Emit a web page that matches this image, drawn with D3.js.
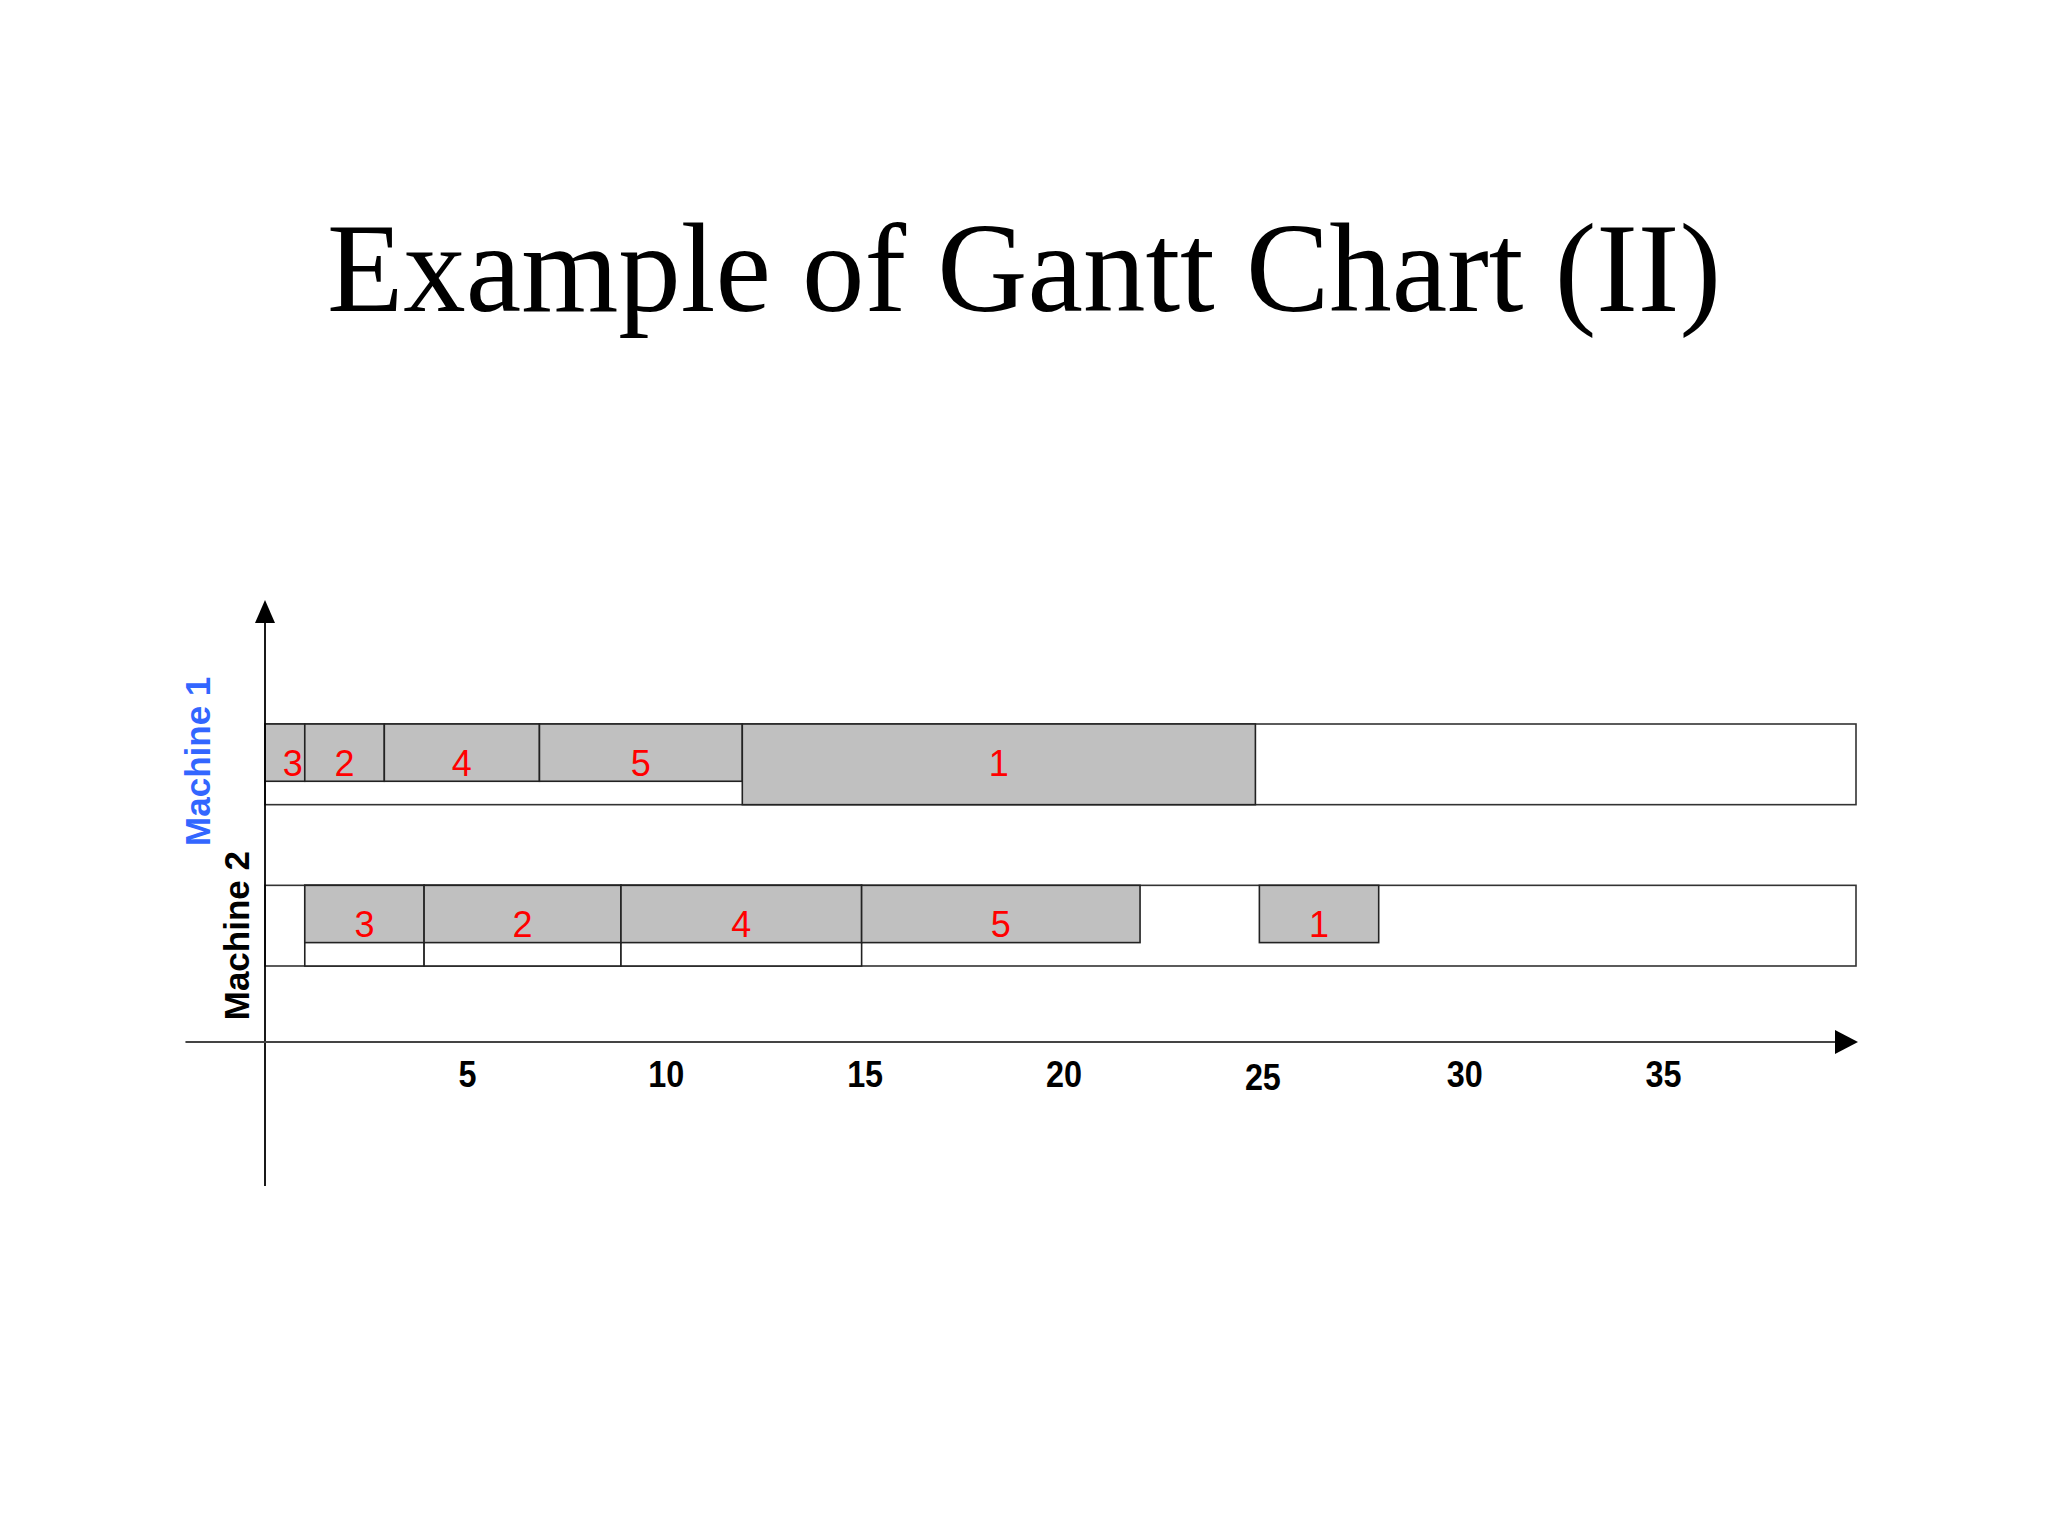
<!DOCTYPE html>
<html>
<head>
<meta charset="utf-8">
<script src="https://cdn.jsdelivr.net/npm/d3@7"></script>
<style>
  html, body { margin: 0; padding: 0; background: #fff; }
  svg { display: block; }
</style>
</head>
<body>
<div id="container"></div>
<script>
// chart data
const machines = ["Machine 1", "Machine 2"];
const jobs1 = [3, 2, 4, 5, 1];
const start1 = [0, 1, 3, 6.9, 12];
const end1 = [1, 3, 6.9, 12, 24.9];
const jobs2 = [3, 2, 4, 5, 1];
const start2 = [1, 4, 8.95, 15, 25];
const end2 = [4, 8.95, 15, 22, 28];
const xTicks = [5, 10, 15, 20, 25, 30, 35];
const xMin = -2, xMax = 40;
const titleText = "Example of Gantt Chart (II)";

// jobs whose bar fills the whole row / jobs with a full height slot drawn under them
const fullJobs = { "Machine 1": [1], "Machine 2": [] };
const slotJobs = { "Machine 1": [], "Machine 2": [3, 2, 4] };

const width = 2048, height = 1536;

const rows = [
    { machine: machines[0], jobs: jobs1, start: start1, end: end1 },
    { machine: machines[1], jobs: jobs2, start: start2, end: end2 }
];

const svg = d3.select("#container").append("svg")
    .attr("width", width)
    .attr("height", height)
    .style("background", "#fff");

svg.append("text")
    .attr("x", width / 2)
    .attr("y", 311)
    .attr("text-anchor", "middle")
    .attr("font-family", "'Liberation Serif', 'Times New Roman', serif")
    .attr("font-size", 128)
    .attr("textLength", 1394)
    .attr("lengthAdjust", "spacingAndGlyphs")
    .attr("fill", "#000")
    .text(titleText);

const x = d3.scaleLinear()
    .domain([0, xMax])
    .range([265, 1856]);

const y = d3.scaleBand()
    .domain(machines)
    .range([724, 966])
    .paddingInner(0.5)
    .paddingOuter(0);

const bw = y.bandwidth();
const axisY = 1042;

// rows
const rowG = svg.selectAll("g.row")
    .data(rows)
    .enter().append("g")
    .attr("class", "row");

rowG.append("rect")
    .attr("x", x(0))
    .attr("y", d => y(d.machine))
    .attr("width", x(xMax) - x(0))
    .attr("height", bw)
    .attr("fill", "#fff")
    .attr("stroke", "#333")
    .attr("stroke-width", 1.6);

rows.forEach(r => {
    const items = r.jobs.map((j, i) => ({ job: j, s: r.start[i], e: r.end[i], machine: r.machine }));
    const g = svg.append("g");

    // full height slots
    g.selectAll("rect.slot")
        .data(items.filter(d => slotJobs[r.machine].includes(d.job)))
        .enter().append("rect")
        .attr("class", "slot")
        .attr("x", d => x(d.s))
        .attr("y", y(r.machine))
        .attr("width", d => x(d.e) - x(d.s))
        .attr("height", bw)
        .attr("fill", "#fff")
        .attr("stroke", "#222")
        .attr("stroke-width", 1.6);

    g.selectAll("rect.bar")
        .data(items)
        .enter().append("rect")
        .attr("class", "bar")
        .attr("x", d => x(d.s))
        .attr("y", y(r.machine))
        .attr("width", d => x(d.e) - x(d.s))
        .attr("height", d => fullJobs[r.machine].includes(d.job) ? bw : bw * 0.71)
        .attr("fill", "#c0c0c0")
        .attr("stroke", "#222")
        .attr("stroke-width", 1.6);

    g.selectAll("text.lbl")
        .data(items)
        .enter().append("text")
        .attr("class", "lbl")
        .attr("x", d => (x(d.s) + x(d.e)) / 2 + (d.e - d.s <= 1 ? 8 : 0))
        .attr("y", y(r.machine) + bw * 0.645)
        .attr("text-anchor", "middle")
        .attr("font-family", "'Liberation Sans', Arial, sans-serif")
        .attr("font-size", 36)
        .attr("fill", "#ff0000")
        .text(d => d.job);
});

// machine labels (rotated)
const labelX = [197, 236];
const labelShift = [-3, 10];
const labelColor = ["#3366ff", "#000"];
svg.selectAll("text.mlabel")
    .data(machines)
    .enter().append("text")
    .attr("class", "mlabel")
    .attr("transform", (d, i) => `translate(${labelX[i]}, ${y(d) + bw / 2 + labelShift[i]}) rotate(-90)`)
    .attr("text-anchor", "middle")
    .attr("dominant-baseline", "central")
    .attr("font-family", "'Liberation Sans', Arial, sans-serif")
    .attr("font-weight", "bold")
    .attr("font-size", 35)
    .attr("fill", (d, i) => labelColor[i])
    .text(d => d);

// y axis with arrow
const yTop = 600, yBottom = 1186;
svg.append("line")
    .attr("x1", x(0)).attr("x2", x(0))
    .attr("y1", yBottom).attr("y2", yTop + 20)
    .attr("stroke", "#000")
    .attr("stroke-width", 1.8);
svg.append("path")
    .attr("d", `M${x(0)},${yTop} L${x(0) - 10},${yTop + 23} L${x(0) + 10},${yTop + 23} Z`)
    .attr("fill", "#000");

// x axis with arrow
const xAxis = d3.axisBottom(x)
    .tickValues(xTicks)
    .tickSize(0)
    .tickPadding(19);

const xg = svg.append("g")
    .attr("transform", `translate(0, ${axisY})`)
    .call(xAxis);
xg.select(".domain").remove();
xg.selectAll(".tick text")
    .attr("dx", d => d >= 30 ? 6 : 3)
    .attr("dy", d => d === 25 ? "0.8em" : "0.71em")
    .attr("font-family", "'Liberation Sans Narrow', 'Liberation Sans', Arial, sans-serif")
    .attr("font-weight", "bold")
    .attr("font-size", 36)
    .attr("textLength", d => String(d).length > 1 ? 36 : 18)
    .attr("lengthAdjust", "spacingAndGlyphs")
    .attr("fill", "#000");

svg.append("line")
    .attr("x1", x(xMin)).attr("x2", x(xMax) - 20)
    .attr("y1", axisY).attr("y2", axisY)
    .attr("stroke", "#444")
    .attr("stroke-width", 2.2);
svg.append("path")
    .attr("d", `M${x(xMax) + 2},${axisY} L${x(xMax) - 21},${axisY - 12} L${x(xMax) - 21},${axisY + 12} Z`)
    .attr("fill", "#000");
</script>
</body>
</html>
